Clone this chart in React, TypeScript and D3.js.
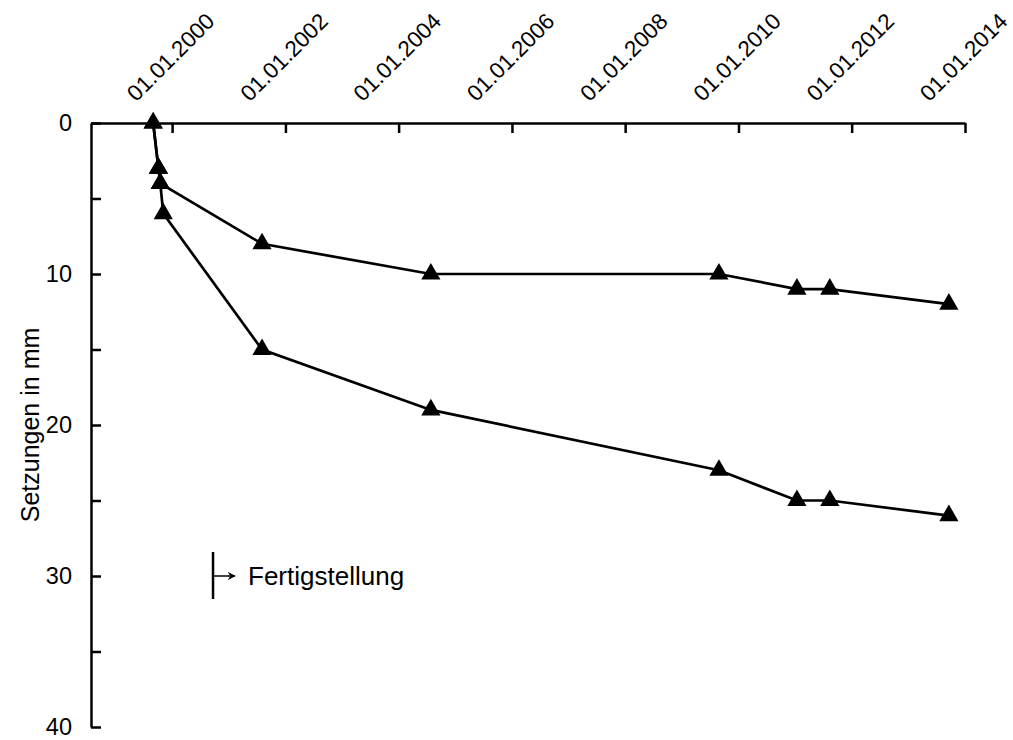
import { useEffect, useRef } from "react";
import * as d3 from "d3";

// Messreihen (Setzungen in mm)
const datesA = ["1999-09-01", "1999-10-05", "1999-10-17", "2001-08-03", "2004-07-27", "2009-08-28", "2011-01-13", "2011-08-13", "2013-09-19"];
const valuesA = [0, 3, 4, 8, 10, 10, 11, 11, 12];

const datesB = ["1999-09-01", "1999-10-05", "1999-10-17", "1999-11-05", "2001-08-03", "2004-07-27", "2009-08-28", "2011-01-13", "2011-08-13", "2013-09-19"];
const valuesB = [0, 3, 4, 6, 15, 19, 23, 25, 25, 26];

const tickYears = [2000, 2002, 2004, 2006, 2008, 2010, 2012, 2014];
const yTicks = [0, 5, 10, 15, 20, 25, 30, 35, 40];
const yLabels = [0, 10, 20, 30, 40];

const completion = { date: "2000-09-21", value: 30, label: "Fertigstellung" };

const width = 1013;
const height = 740;
const margin = { top: 123, right: 48, bottom: 13, left: 91 };
const font = "'Liberation Sans', Arial, Helvetica, sans-serif";

const parse = (s: string) => new Date(s + "T00:00:00Z");

const App = () => {
  const ref = useRef<SVGSVGElement>(null);

  useEffect(() => {
    const svg = d3.select(ref.current);
    svg.selectAll("*").remove();

    const x = d3
      .scaleUtc()
      .domain([parse("1998-07-27"), parse("2014-01-01")])
      .range([margin.left, width - margin.right]);

    const y = d3
      .scaleLinear()
      .domain([0, 40])
      .range([margin.top, height - margin.bottom]);

    // x-Achse oben
    const xAxis = d3
      .axisTop(x)
      .tickValues(tickYears.map((yr) => new Date(Date.UTC(yr, 0, 1))))
      .tickSize(-10)
      .tickSizeOuter(0)
      .tickFormat((d) => d3.utcFormat("%d.%m.%Y")(d as Date));

    const gx = svg.append("g").attr("transform", `translate(0,${margin.top})`).call(xAxis);
    gx.select(".domain").attr("stroke-width", 2.5);
    gx.selectAll(".tick line").attr("stroke-width", 2.5);
    gx.selectAll(".tick text")
      .attr("font-family", font)
      .attr("font-size", 22.5)
      .attr("fill", "#000")
      .attr("text-anchor", "middle")
      .attr("dy", "0.35em")
      .attr("y", 0)
      .attr("transform", "translate(-2,-66) rotate(-45)");

    // y-Achse links
    const yAxis = d3
      .axisLeft(y)
      .tickValues(yTicks)
      .tickSize(-10)
      .tickSizeOuter(0)
      .tickFormat((d) => (yLabels.includes(d as number) ? String(d) : ""));

    const gy = svg.append("g").attr("transform", `translate(${margin.left},0)`).call(yAxis);
    gy.select(".domain").attr("stroke-width", 2.5);
    gy.selectAll(".tick line").attr("stroke-width", 2.5);
    gy.selectAll(".tick text")
      .attr("font-family", font)
      .attr("font-size", 23.5)
      .attr("fill", "#000")
      .attr("x", -19);

    svg
      .append("text")
      .attr("transform", `translate(30,${(margin.top + height - margin.bottom) / 2}) rotate(-90)`)
      .attr("text-anchor", "middle")
      .attr("dy", "0.35em")
      .attr("font-family", font)
      .attr("font-size", 25)
      .text("Setzungen in mm");

    const series = [
      datesA.map((d, i) => ({ date: parse(d), value: valuesA[i] })),
      datesB.map((d, i) => ({ date: parse(d), value: valuesB[i] })),
    ];

    const line = d3
      .line<{ date: Date; value: number }>()
      .x((d) => x(d.date))
      .y((d) => y(d.value));

    const tri = d3.symbol().type(d3.symbolTriangle).size(160);

    series.forEach((s) => {
      svg
        .append("path")
        .datum(s)
        .attr("d", line)
        .attr("fill", "none")
        .attr("stroke", "#000")
        .attr("stroke-width", 2.7);
    });

    series.forEach((s) => {
      svg
        .append("g")
        .selectAll("path")
        .data(s)
        .join("path")
        .attr("d", tri)
        .attr("transform", (d) => `translate(${x(d.date)},${y(d.value)})`)
        .attr("fill", "#000");
    });

    // Fertigstellung
    const cx = x(parse(completion.date));
    const cy = y(completion.value);
    svg
      .append("defs")
      .append("marker")
      .attr("id", "arrow")
      .attr("viewBox", "0 0 10 10")
      .attr("refX", 9)
      .attr("refY", 5)
      .attr("markerWidth", 8)
      .attr("markerHeight", 8)
      .attr("markerUnits", "userSpaceOnUse")
      .attr("orient", "auto")
      .append("path")
      .attr("d", "M0,0 L10,5 L0,10 L3,5 Z")
      .attr("fill", "#000");
    svg
      .append("line")
      .attr("x1", cx)
      .attr("x2", cx)
      .attr("y1", cy - 24)
      .attr("y2", cy + 23)
      .attr("stroke", "#000")
      .attr("stroke-width", 2.5);
    svg
      .append("line")
      .attr("x1", cx)
      .attr("x2", cx + 22)
      .attr("y1", cy)
      .attr("y2", cy)
      .attr("stroke", "#000")
      .attr("stroke-width", 1.5)
      .attr("marker-end", "url(#arrow)");
    svg
      .append("text")
      .attr("x", cx + 35)
      .attr("y", cy)
      .attr("dy", "0.35em")
      .attr("font-family", font)
      .attr("font-size", 26)
      .text(completion.label);
  }, []);

  return (
    <svg
      ref={ref}
      width={width}
      height={height}
      style={{ position: "absolute", left: 0, top: 0, background: "#fff" }}
    />
  );
};

export default App;
